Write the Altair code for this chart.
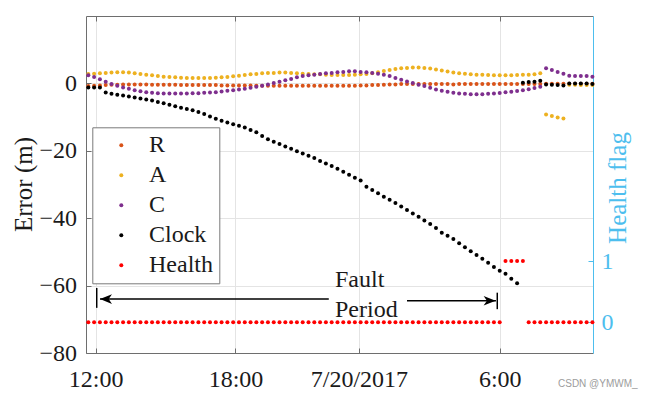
import altair as alt
import pandas as pd

# ---------------- data ----------------
sample_index = list(range(88))

R = [-0.8, -0.7, -0.6, -0.5, -0.4, -0.4, -0.3, -0.3, -0.3, -0.3,
     -0.3, -0.4, -0.4, -0.4, -0.4, -0.4, -0.5, -0.5, -0.5, -0.5,
     -0.5, -0.5, -0.5, -0.6, -0.6, -0.6, -0.6, -0.6, -0.6, -0.7,
     -0.7, -0.7, -0.7, -0.7, -0.7, -0.7, -0.7, -0.7, -0.7, -0.7,
     -0.7, -0.7, -0.7, -0.7, -0.7, -0.7, -0.7, -0.6, -0.6, -0.5,
     -0.5, -0.4, -0.3, -0.3, -0.2, -0.2, -0.2, -0.2, -0.2, -0.2,
     -0.2, -0.2, -0.2, -0.3, -0.2, -0.2, -0.2, -0.2, -0.2, -0.2,
     -0.2, -0.2, -0.2, -0.2, -0.2, -0.2, -0.2, -0.2, -0.2, -0.1,
     -0.1, -0.1, -0.1, -0.1, -0.1, -0.1, -0.1, -0.1]

A = [2.8, 2.9, 3.0, 3.1, 3.2, 3.3, 3.3, 3.2, 3.0, 2.8,
     2.6, 2.4, 2.2, 2.0, 1.9, 1.8, 1.7, 1.6, 1.6, 1.6,
     1.6, 1.6, 1.7, 1.8, 1.9, 2.1, 2.3, 2.5, 2.7, 2.8,
     3.0, 3.1, 3.1, 3.2, 3.2, 3.1, 3.0, 2.9, 2.8, 2.7,
     2.7, 2.6, 2.5, 2.5, 2.5, 2.5, 2.6, 2.7, 2.8, 3.0,
     3.3, 3.7, 4.0, 4.3, 4.5, 4.6, 4.7, 4.7, 4.6, 4.4,
     4.1, 3.8, 3.5, 3.2, 3.0, 2.85, 2.7, 2.6, 2.6, 2.5,
     2.45, 2.4, 2.4, 2.45, 2.5, 2.55, 2.6, 2.7, 3.0, -9.2,
     -9.7, -10.1, -10.4, -0.4, -0.4, -0.5, -0.5, -0.5]

C = [2.4, 1.9, 1.2, 0.5, -0.2, -0.7, -1.2, -1.6, -2.0, -2.3,
     -2.6, -2.8, -2.9, -3.0, -3.0, -3.0, -3.0, -3.0, -2.9, -2.9,
     -2.8, -2.7, -2.6, -2.4, -2.2, -2.0, -1.8, -1.6, -1.3, -1.0,
     -0.7, -0.3, 0.1, 0.5, 0.9, 1.3, 1.8, 2.2, 2.4, 2.6,
     2.8, 3.0, 3.1, 3.3, 3.4, 3.6, 3.6, 3.4, 3.3, 3.1,
     2.9, 2.6, 2.2, 1.6, 1.1, 0.6, 0.1, -0.4, -0.8, -1.3,
     -1.8, -2.2, -2.5, -2.8, -3.0, -3.1, -3.2, -3.25, -3.2, -3.1,
     -3.0, -2.85, -2.65, -2.5, -2.25, -2.05, -1.7, -1.35, -1.0, 4.5,
     4.0, 3.4, 2.9, 2.3, 2.2, 2.2, 2.2, 2.0]

clock = [-1.2, -1.2, -1.2, -2.7, -3.1, -3.4, -3.6, -3.9, -4.2, -4.5,
         -4.8, -5.1, -5.5, -5.9, -6.3, -6.8, -7.2, -7.6, -8.0, -8.5,
         -9.1, -9.8, -10.5, -11.1, -11.6, -12.1, -12.6, -13.1, -13.8, -14.5,
         -15.6, -16.6, -17.3, -18.0, -18.7, -19.4, -20.1, -20.8, -21.5, -22.1,
         -23.0, -23.8, -24.5, -25.3, -26.2, -27.1, -28.0, -28.8, -30.7, -31.6,
         -32.6, -33.6, -34.5, -35.5, -36.5, -37.6, -38.6, -39.6, -40.7, -41.7,
         -42.9, -44.3, -45.2, -46.2, -47.4, -48.6, -49.8, -50.9, -52.0, -53.2,
         -54.5, -55.6, -56.5, -58.0, -59.3, 0.2, 0.4, 0.5, 0.8, -0.3,
         -0.4, -0.5, -0.6, 0.0, 0.0, 0.0, 0.0, -0.2]

health = [0, 0, 0, 0, 0, 0, 0, 0, 0, 0,
          0, 0, 0, 0, 0, 0, 0, 0, 0, 0,
          0, 0, 0, 0, 0, 0, 0, 0, 0, 0,
          0, 0, 0, 0, 0, 0, 0, 0, 0, 0,
          0, 0, 0, 0, 0, 0, 0, 0, 0, 0,
          0, 0, 0, 0, 0, 0, 0, 0, 0, 0,
          0, 0, 0, 0, 0, 0, 0, 0, 0, 0,
          0, 0, 1, 1, 1, 1, 0, 0, 0, 0,
          0, 0, 0, 0, 0, 0, 0, 0]

series_names = ["R", "A", "C", "Clock", "Health"]
series_colors = ["#D95319", "#EDB120", "#7E2F8E", "#000000", "#FF0000"]

x_tick_pos = [1.25, 25.4, 46.7, 71.0]
x_tick_labels = ["12:00", "18:00", "7/20/2017", "6:00"]
err_ticks = [-80, -60, -40, -20, 0]
flag_ticks = [0, 1]

# annotation ("Fault Period" double arrow), in data coordinates
ann_words = ["Fault", "Period"]
ann_word_x = [42.57, 42.57]
ann_word_y = [-60.5, -69.4]
ann_seg_x = [2.02, 55.0, 1.45, 70.58]
ann_seg_x2 = [41.5, 70.35, 1.45, 70.58]
ann_seg_y = [-64.0, -64.5, -60.7, -62.1]
ann_seg_y2 = [-64.0, -64.5, -66.6, -67.0]
ann_head_x = [3.05, 69.26]
ann_head_y = [-64.0, -64.5]
ann_head_dir = ["left", "right"]

# ---------------- styling ----------------
W, H = 507, 337
FONT = "Liberation Serif"
BLUE = "#4DBEEE"
AXIS_GREY = "#6e6e6e"
TEXT = "#1a1a1a"
GRID = "#e4e4e4"

df = pd.DataFrame({"i": sample_index, "R": R, "A": A, "C": C,
                   "Clock": clock, "Health": health})

xscale = alt.Scale(domain=[-0.4, 87.1], nice=False, zero=False)
yerr = alt.Scale(domain=[-80, 20], nice=False, zero=False)
yflag = alt.Scale(domain=[-0.5, 5], nice=False, zero=False)

parts = [f"abs(datum.value - {p}) < 0.5 ? '{l}'" for p, l in zip(x_tick_pos, x_tick_labels)]
label_expr = " : ".join(parts) + " : ''"

legend = alt.Legend(title=None, orient="none", legendX=6.3, legendY=111.3,
                    direction="vertical", strokeColor="#7a7a7a", fillColor="white",
                    padding=6, rowPadding=6, symbolOffset=11, labelOffset=15.7,
                    symbolType="circle", symbolSize=16, symbolStrokeWidth=0,
                    labelFont=FONT, labelFontSize=24, labelColor=TEXT)
color = alt.Color("series:N",
                  scale=alt.Scale(domain=series_names, range=series_colors),
                  legend=legend)

err_layer = alt.Chart(df).transform_fold(
    ["R", "A", "C", "Clock"], as_=["series", "err"]
).mark_point(filled=True, size=16, opacity=1).encode(
    x=alt.X("i:Q", scale=xscale, axis=alt.Axis(
        orient="bottom", values=x_tick_pos, labelExpr=label_expr, tickSize=0,
        domainColor=AXIS_GREY, labelFont=FONT, labelFontSize=24, labelColor=TEXT,
        labelPadding=14, labelFlush=False, labelOverlap=False, labelBound=False,
        grid=True, gridColor=GRID, title=None)),
    y=alt.Y("err:Q", scale=yerr, axis=alt.Axis(
        orient="left", values=err_ticks, tickSize=0, domainColor=AXIS_GREY,
        labelFont=FONT, labelFontSize=24, labelColor=TEXT, labelPadding=9.5,
        labelOverlap=False, labelFlush=False, grid=True, gridColor=GRID,
        title="Error (m)", titleFont=FONT, titleFontSize=25, titleFontWeight="normal",
        titleColor=TEXT, titleAngle=270, titleX=-54.5, titleY=168,
        titleBaseline="alphabetic", titleAlign="center")),
    color=color,
)

health_layer = alt.Chart(df).transform_fold(
    ["Health"], as_=["series", "flag"]
).mark_point(filled=True, size=16, opacity=1).encode(
    x=alt.X("i:Q", scale=xscale, axis=None),
    y=alt.Y("flag:Q", scale=yflag, axis=alt.Axis(
        orient="right", values=flag_ticks, tickSize=0, domain=False,
        labelColor=BLUE, labelFont=FONT, labelFontSize=24, labelPadding=8,
        labelOverlap=False, labelFlush=False, grid=False,
        title="Health flag", titleColor=BLUE, titleFont=FONT, titleFontSize=25,
        titleFontWeight="normal", titleAngle=270, titleX=32.5, titleY=171.5,
        titleBaseline="alphabetic", titleAlign="center")),
    color=color,
)

# inward ticks + box lines
tick_a = alt.Chart(df).mark_point(opacity=0).encode(
    x=alt.X("i:Q", scale=xscale, axis=alt.Axis(
        orient="top", offset=-H, values=x_tick_pos, labels=False, domain=False,
        grid=False, tickSize=5, tickColor=AXIS_GREY, title=None)),
    y=alt.Y("R:Q", scale=yerr, axis=alt.Axis(
        orient="right", offset=-W, values=err_ticks, labels=False, domain=False,
        grid=False, tickSize=5, tickColor=AXIS_GREY, title=None)),
)
tick_b = alt.Chart(df).mark_point(opacity=0).encode(
    x=alt.X("i:Q", scale=xscale, axis=alt.Axis(
        orient="bottom", offset=-H, values=x_tick_pos, labels=False, domain=True,
        domainColor=AXIS_GREY, grid=False, tickSize=5, tickColor=AXIS_GREY, title=None)),
    y=alt.Y("Health:Q", scale=yflag, axis=alt.Axis(
        orient="left", offset=-W, values=flag_ticks, labels=False, domain=True,
        domainColor=BLUE, grid=False, tickSize=5, tickColor=BLUE, title=None)),
)

seg_df = pd.DataFrame({"x": ann_seg_x, "x2": ann_seg_x2, "y": ann_seg_y, "y2": ann_seg_y2})
segs = alt.Chart(seg_df).mark_rule(color="black", strokeWidth=1.5).encode(
    x=alt.X("x:Q", scale=xscale, axis=None), x2="x2:Q",
    y=alt.Y("y:Q", scale=yerr, axis=None), y2="y2:Q",
)

head_df = pd.DataFrame({"x": ann_head_x, "y": ann_head_y, "dir": ann_head_dir})
left_head = "M-1,0L1,-0.8L0.45,0L1,0.8Z"
right_head = "M1,0L-1,-0.8L-0.45,0L-1,0.8Z"
heads = alt.Chart(head_df).mark_point(filled=True, size=144, color="black", opacity=1).encode(
    x=alt.X("x:Q", scale=xscale, axis=None),
    y=alt.Y("y:Q", scale=yerr, axis=None),
    shape=alt.Shape("dir:N", scale=alt.Scale(domain=["left", "right"],
                                             range=[left_head, right_head]), legend=None),
)

word_df = pd.DataFrame({"x": ann_word_x, "y": ann_word_y, "t": ann_words})
words = alt.Chart(word_df).mark_text(align="left", baseline="alphabetic", font=FONT,
                                     fontSize=24, color=TEXT).encode(
    x=alt.X("x:Q", scale=xscale, axis=None),
    y=alt.Y("y:Q", scale=yerr, axis=None),
    text="t:N",
)

wm = alt.Chart(pd.DataFrame({"t": ["CSDN @YMWM_"]})).mark_text(
    align="left", baseline="middle", font="Liberation Sans", fontSize=10, color="#9c9c9c"
).encode(x=alt.value(472), y=alt.value(368), text="t:N")

chart = alt.layer(
    err_layer, health_layer, tick_a, tick_b, segs, heads, words, wm
).resolve_scale(
    y="independent"
).resolve_axis(
    x="independent", y="independent"
).properties(
    width=W, height=H,
    padding={"left": 78, "top": 8, "right": 51, "bottom": 38},
    autosize=alt.AutoSizeParams(type="none"),
).configure_view(stroke=None)

chart.save("out.html", embed_options={"renderer": "svg", "actions": False})
